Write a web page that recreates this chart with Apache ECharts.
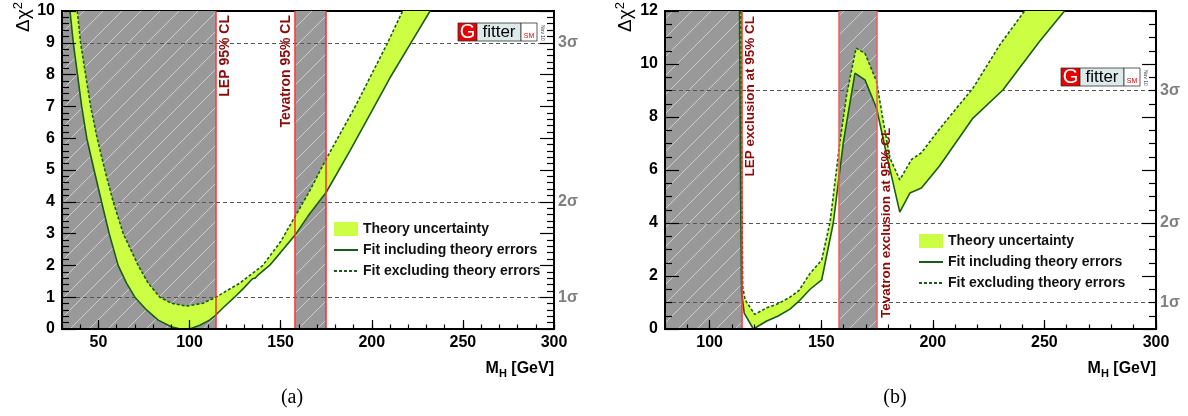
<!DOCTYPE html>
<html>
<head>
<meta charset="utf-8">
<script src="https://cdn.jsdelivr.net/npm/echarts@6/dist/echarts.min.js"></script>
<style>
  html, body { margin: 0; padding: 0; background: #fff; }
  #chart { width: 1188px; height: 416px; }
</style>
</head>
<body>
<div id="chart"></div>
<script>
// ---- Panel (a): Delta chi^2 versus M_H, standard fit ----
const mhIncA  = [34.4, 36.2, 40.8, 43.6, 47.6, 51.7, 55.9, 60.8, 65.4, 70, 76.4, 82.8, 90, 95, 100, 105.6, 111, 114.4, 119, 124.7, 130, 134.5, 136, 138, 143.9, 150, 158, 165, 171, 175, 188, 200, 210, 221.5, 232];
const chiIncA = [10, 9, 7, 6, 5, 4, 3, 2, 1.44, 1, 0.6, 0.28, 0.07, 0, 0, 0.12, 0.28, 0.44, 0.7, 1.0, 1.3, 1.58, 1.6, 1.72, 2.0, 2.41, 2.96, 3.55, 4.0, 4.3, 5.6, 6.85, 7.9, 9, 10];
const mhExcA  = [38.4, 40.2, 45.7, 49.3, 53.5, 58.1, 63.6, 71.8, 77.3, 83.7, 90, 98.3, 107.4, 114.4, 127.5, 140.2, 150, 158, 166, 175, 190.5, 208.7, 216.9];
const chiExcA = [10, 9, 7, 6, 5, 4, 3, 2, 1.44, 1.0, 0.81, 0.72, 0.81, 1.0, 1.44, 2.0, 2.75, 3.55, 4.35, 5.35, 6.95, 9, 10];

// ---- Panel (b): Delta chi^2 versus M_H, complete fit with direct searches ----
const mhIncB  = [113.4, 113.8, 114.3, 115.5, 119.6, 125.6, 130.5, 136, 140, 145, 150.2, 155.4, 160, 165.1, 169.6, 174.8, 179.3, 185.2, 189.7, 194.9, 203, 218, 231.4, 247.8, 259];
const chiIncB = [12, 6, 1.4, 0.6, 0.0, 0.3, 0.48, 0.75, 1.05, 1.5, 1.85, 4.0, 7.1, 9.65, 9.4, 8.33, 6.57, 4.41, 5.13, 5.32, 6.15, 7.96, 9.02, 10.85, 12];
const mhExcB  = [114.0, 114.3, 114.8, 115.9, 120.2, 125.6, 130.5, 136, 140, 145, 150.2, 154, 158.4, 161.4, 165.6, 169.6, 174.8, 177.8, 180.8, 185.2, 190.5, 194.9, 203, 218, 230, 241.1];
const chiExcB = [12, 6, 1.6, 1.1, 0.55, 0.8, 0.95, 1.2, 1.45, 2.1, 2.6, 4.06, 7.08, 8.84, 10.6, 10.4, 9.34, 7.83, 6.45, 5.63, 6.4, 6.65, 7.55, 9.09, 10.72, 12];

// ---- Exclusion limits and reference levels ----
const lepLimit = 114.4;
const tevatronLimits = [158, 175];
const sigmaLevels = [1, 4, 9];
const sigmaNames = ['1σ', '2σ', '3σ'];

// ---- Mass axis ranges: labelled ticks every 50 GeV, small ticks every 10 GeV ----
const massRangeA = [30, 300];
const massRangeB = [80, 300];
const majorStep = 50;
const minorStep = 10;

const names = ['Theory uncertainty', 'Fit including theory errors', 'Fit excluding theory errors'];
const FONT = '"Liberation Sans", Arial, sans-serif';
const BAND = '#ccff44';
const GREEN = '#1c5a1c';
const EXCL_TEXT = '#8c0a0a';

function hatchCanvas() {
  const s = 19, c = document.createElement('canvas');
  c.width = s; c.height = s;
  const g = c.getContext('2d');
  g.fillStyle = '#999999';
  g.fillRect(0, 0, s, s);
  g.strokeStyle = '#cdcdcd';
  g.lineWidth = 1;
  g.beginPath();
  g.moveTo(0, s); g.lineTo(s, 0);
  g.moveTo(-2, 2); g.lineTo(2, -2);
  g.moveTo(s - 2, s + 2); g.lineTo(s + 2, s - 2);
  g.stroke();
  return c;
}
const hatch = hatchCanvas();

const zip = (a, b) => a.map((v, i) => [v, b[i]]);

const panels = [
  { range: massRangeA, yMax: 10, yStep: 1, yMinor: 5,
    mInc: mhIncA, cInc: chiIncA, mExc: mhExcA, cExc: chiExcA,
    lepColor: '#ff2e2e', tevColor: '#ff2e2e' },
  { range: massRangeB, yMax: 12, yStep: 2, yMinor: 4,
    mInc: mhIncB, cInc: chiIncB, mExc: mhExcB, cExc: chiExcB,
    lepColor: '#ff2e2e', tevColor: '#f05a5a' }
];

// framed plot areas
const grids = [
  { left: 62, right: 634, top: 11, bottom: 87, show: true, borderColor: '#000', borderWidth: 2, backgroundColor: 'transparent' },
  { left: 665, right: 32, top: 11, bottom: 87, show: true, borderColor: '#000', borderWidth: 2, backgroundColor: 'transparent' }
];

const tickStyle = { color: '#000', width: 1.2 };
const labelStyle = { color: '#000', fontSize: 16, fontWeight: 'bold', fontFamily: FONT };

const xAxes = [], yAxes = [], series = [];

panels.forEach((p, gi) => {
  xAxes.push(
    // data axis, small ticks every 10 GeV
    { type: 'value', gridIndex: gi, min: p.range[0], max: p.range[1], position: 'bottom',
      interval: minorStep, splitLine: { show: false }, z: 10,
      axisLine: { show: true, lineStyle: { color: '#000', width: 2 } },
      axisTick: { show: true, inside: true, length: 4.5, lineStyle: { color: '#000', width: 1.2 } },
      axisLabel: { show: false } },
    // labelled ticks every 50 GeV; the first tick sits on the frame corner
    { type: 'value', gridIndex: gi, min: p.range[0], max: p.range[1], position: 'bottom',
      minInterval: majorStep, maxInterval: majorStep, splitLine: { show: false }, z: 10,
      axisLine: { show: false },
      axisTick: { show: true, inside: true, length: 9, lineStyle: { color: '#000', width: 1.2 } },
      axisLabel: { show: true, showMinLabel: false, margin: 6, ...labelStyle } }
  );
  yAxes.push(
    { type: 'value', gridIndex: gi, min: 0, max: p.yMax, interval: p.yStep, position: 'left', z: 10,
      splitLine: { show: false }, minorSplitLine: { show: false },
      axisLine: { show: true, lineStyle: { color: '#000', width: 2 } },
      axisTick: { show: true, inside: true, length: 14, lineStyle: { color: '#000', width: 1.2 } },
      minorTick: { show: true, splitNumber: p.yMinor, length: 7, lineStyle: { color: '#000', width: 1.2 } },
      axisLabel: { show: true, margin: 7, ...labelStyle } },
    { type: 'value', gridIndex: gi, min: 0, max: p.yMax, interval: p.yStep, position: 'right', z: 10,
      splitLine: { show: false }, minorSplitLine: { show: false },
      axisLine: { show: true, lineStyle: { color: '#000', width: 2 } },
      axisTick: { show: true, inside: true, length: 14, lineStyle: { color: '#000', width: 1.2 } },
      minorTick: { show: true, splitNumber: p.yMinor, length: 7, lineStyle: { color: '#000', width: 1.2 } },
      axisLabel: { show: false } }
  );

  const xi = gi * 2, yi = gi * 2;

  // excluded mass ranges (hatched) and the 1, 2, 3 sigma levels
  series.push({
    type: 'line', xAxisIndex: xi, yAxisIndex: yi, data: [[p.range[0], 0]], symbol: 'none',
    lineStyle: { opacity: 0 }, silent: true, z: 1,
    markArea: {
      silent: true, z: 1,
      itemStyle: { color: { image: hatch, repeat: 'repeat' } },
      data: [[{ xAxis: p.range[0] }, { xAxis: lepLimit }], [{ xAxis: tevatronLimits[0] }, { xAxis: tevatronLimits[1] }]]
    },
    markLine: {
      silent: true, z: 1.5, symbol: ['none', 'none'], animation: false,
      lineStyle: { color: '#555', type: [4, 3], width: 1 },
      label: { show: true, position: 'end', distance: 4, color: '#808080', fontSize: 16, fontWeight: 'bold', fontFamily: FONT },
      data: sigmaLevels.map((v, i) => ({ yAxis: v, label: { formatter: sigmaNames[i] } }))
    }
  });

  // theory uncertainty band between the two fit curves
  series.push({
    type: 'custom', name: names[0], xAxisIndex: xi, yAxisIndex: yi, z: 2, silent: true,
    itemStyle: { color: BAND },
    data: [[p.mExc[0], p.cExc[0]]],
    encode: { x: 0, y: 1 },
    renderItem(params, api) {
      const pts = [];
      for (let i = 0; i < p.mExc.length; i++) pts.push(api.coord([p.mExc[i], p.cExc[i]]));
      for (let i = p.mInc.length - 1; i >= 0; i--) pts.push(api.coord([p.mInc[i], p.cInc[i]]));
      return { type: 'polygon', shape: { points: pts }, style: { fill: BAND } };
    }
  });

  series.push({
    type: 'line', name: names[1], xAxisIndex: xi, yAxisIndex: yi, z: 3, silent: true,
    data: zip(p.mInc, p.cInc), symbol: 'none',
    itemStyle: { color: GREEN }, lineStyle: { color: GREEN, width: 1.6 }
  });
  series.push({
    type: 'line', name: names[2], xAxisIndex: xi, yAxisIndex: yi, z: 3, silent: true,
    data: zip(p.mExc, p.cExc), symbol: 'none',
    itemStyle: { color: GREEN }, lineStyle: { color: GREEN, width: 1.6, type: [3, 2] }
  });

  // LEP and Tevatron exclusion boundaries
  series.push({
    type: 'line', xAxisIndex: xi, yAxisIndex: yi, data: [[p.range[0], 0]], symbol: 'none',
    lineStyle: { opacity: 0 }, silent: true, z: 4,
    markLine: {
      silent: true, z: 4, symbol: ['none', 'none'], animation: false,
      label: { show: false },
      data: [
        { xAxis: lepLimit, lineStyle: { color: p.lepColor, width: 1.5, type: 'solid' } },
        { xAxis: tevatronLimits[0], lineStyle: { color: p.tevColor, width: 1.5, type: 'solid' } },
        { xAxis: tevatronLimits[1], lineStyle: { color: p.tevColor, width: 1.5, type: 'solid' } }
      ]
    }
  });
});

const hiddenMarker = { color: 'rgba(0,0,0,0)', borderColor: 'rgba(0,0,0,0)', borderWidth: 0 };
const legendBase = {
  orient: 'vertical', itemWidth: 24, itemHeight: 14, itemGap: 7, padding: 0, selectedMode: false,
  textStyle: { fontFamily: FONT, fontWeight: 'bold', fontSize: 14, color: '#111' },
  data: [
    { name: names[0], icon: 'rect', itemStyle: { color: BAND } },
    { name: names[1], itemStyle: hiddenMarker },
    { name: names[2], itemStyle: hiddenMarker }
  ]
};

const chart = echarts.init(document.getElementById('chart'), null, { renderer: 'canvas' });
chart.setOption({
  animation: false,
  backgroundColor: '#fff',
  grid: grids,
  xAxis: xAxes,
  yAxis: yAxes,
  legend: [
    { ...legendBase, left: 333, top: 222 },
    { ...legendBase, left: 918, top: 234 }
  ],
  series
});

function logo(x, y) {
  return {
    type: 'group', x, y, z: 20, children: [
      { type: 'rect', shape: { x: 0, y: 0, width: 19, height: 18 }, style: { fill: '#e60000', stroke: '#333', lineWidth: 0.8 } },
      { type: 'text', x: 9.5, y: 9.5, style: { text: 'G', fill: '#fff', font: '20px ' + FONT, align: 'center', verticalAlign: 'middle' } },
      { type: 'rect', shape: { x: 19, y: 0, width: 44, height: 18 }, style: { fill: '#dde9ea', stroke: '#333', lineWidth: 0.8 } },
      { type: 'text', x: 41, y: 9.5, style: { text: 'fitter', fill: '#000', font: '17px ' + FONT, align: 'center', verticalAlign: 'middle' } },
      { type: 'rect', shape: { x: 63, y: 0, width: 16, height: 18 }, style: { fill: '#fff', stroke: '#333', lineWidth: 0.8 } },
      { type: 'text', x: 71, y: 13, style: { text: 'SM', fill: '#e60000', font: '7px ' + FONT, align: 'center', verticalAlign: 'middle' } },
      { type: 'text', x: 87, y: 2, rotation: -Math.PI / 2, style: { text: 'Nov 10', fill: '#333', font: '5px ' + FONT, align: 'left', verticalAlign: 'top' } }
    ]
  };
}

function vText(x, y, text, align, vAlign, size) {
  return {
    type: 'text', x, y, z: 20, rotation: Math.PI / 2,
    style: { text, fill: EXCL_TEXT, font: 'bold ' + size + 'px ' + FONT, align, verticalAlign: vAlign }
  };
}

function yTitle(x) {
  return {
    type: 'text', x, y: 2, z: 20, rotation: Math.PI / 2,
    style: {
      text: '{a|Δχ}{b|2}', align: 'right', verticalAlign: 'bottom',
      rich: {
        a: { fontFamily: FONT, fontSize: 19, lineHeight: 21, verticalAlign: 'bottom', fill: '#000' },
        b: { fontFamily: FONT, fontSize: 13, lineHeight: 13, verticalAlign: 'top', padding: [0, 0, 8, 0], fill: '#000' }
      }
    }
  };
}

function xTitle(x) {
  return {
    type: 'text', x, y: 361, z: 20,
    style: {
      text: '{m|M}{h|H}{m| [GeV]}', align: 'right', verticalAlign: 'top',
      rich: {
        m: { fontFamily: FONT, fontSize: 16, fontWeight: 'bold', lineHeight: 18, verticalAlign: 'top', fill: '#000' },
        h: { fontFamily: FONT, fontSize: 11, fontWeight: 'bold', lineHeight: 12, verticalAlign: 'bottom', padding: [8, 0, 0, 0], fill: '#000' }
      }
    }
  };
}

const pxA = v => chart.convertToPixel({ xAxisIndex: 0 }, v);
const pxB = v => chart.convertToPixel({ xAxisIndex: 2 }, v);

chart.setOption({
  graphic: [
    yTitle(33), yTitle(635),
    xTitle(pxA(massRangeA[1])), xTitle(pxB(massRangeB[1])),
    vText(pxA(lepLimit) + 2, 15, 'LEP 95% CL', 'right', 'top', 14),
    vText(pxA(tevatronLimits[0]) - 2, 15, 'Tevatron 95% CL', 'right', 'bottom', 14),
    vText(pxB(lepLimit) + 2, 16, 'LEP exclusion at 95% CL', 'right', 'top', 13.5),
    vText(pxB(tevatronLimits[1]) + 2, 318, 'Tevatron exclusion at 95% CL', 'left', 'top', 13.5),
    logo(458, 23), logo(1061, 68),
    { type: 'text', x: 292, y: 398, style: { text: '(a)', fill: '#000', font: '20px "Liberation Serif", serif', align: 'center', verticalAlign: 'middle' } },
    { type: 'text', x: 895, y: 398, style: { text: '(b)', fill: '#000', font: '20px "Liberation Serif", serif', align: 'center', verticalAlign: 'middle' } }
  ]
});
</script>
</body>
</html>
